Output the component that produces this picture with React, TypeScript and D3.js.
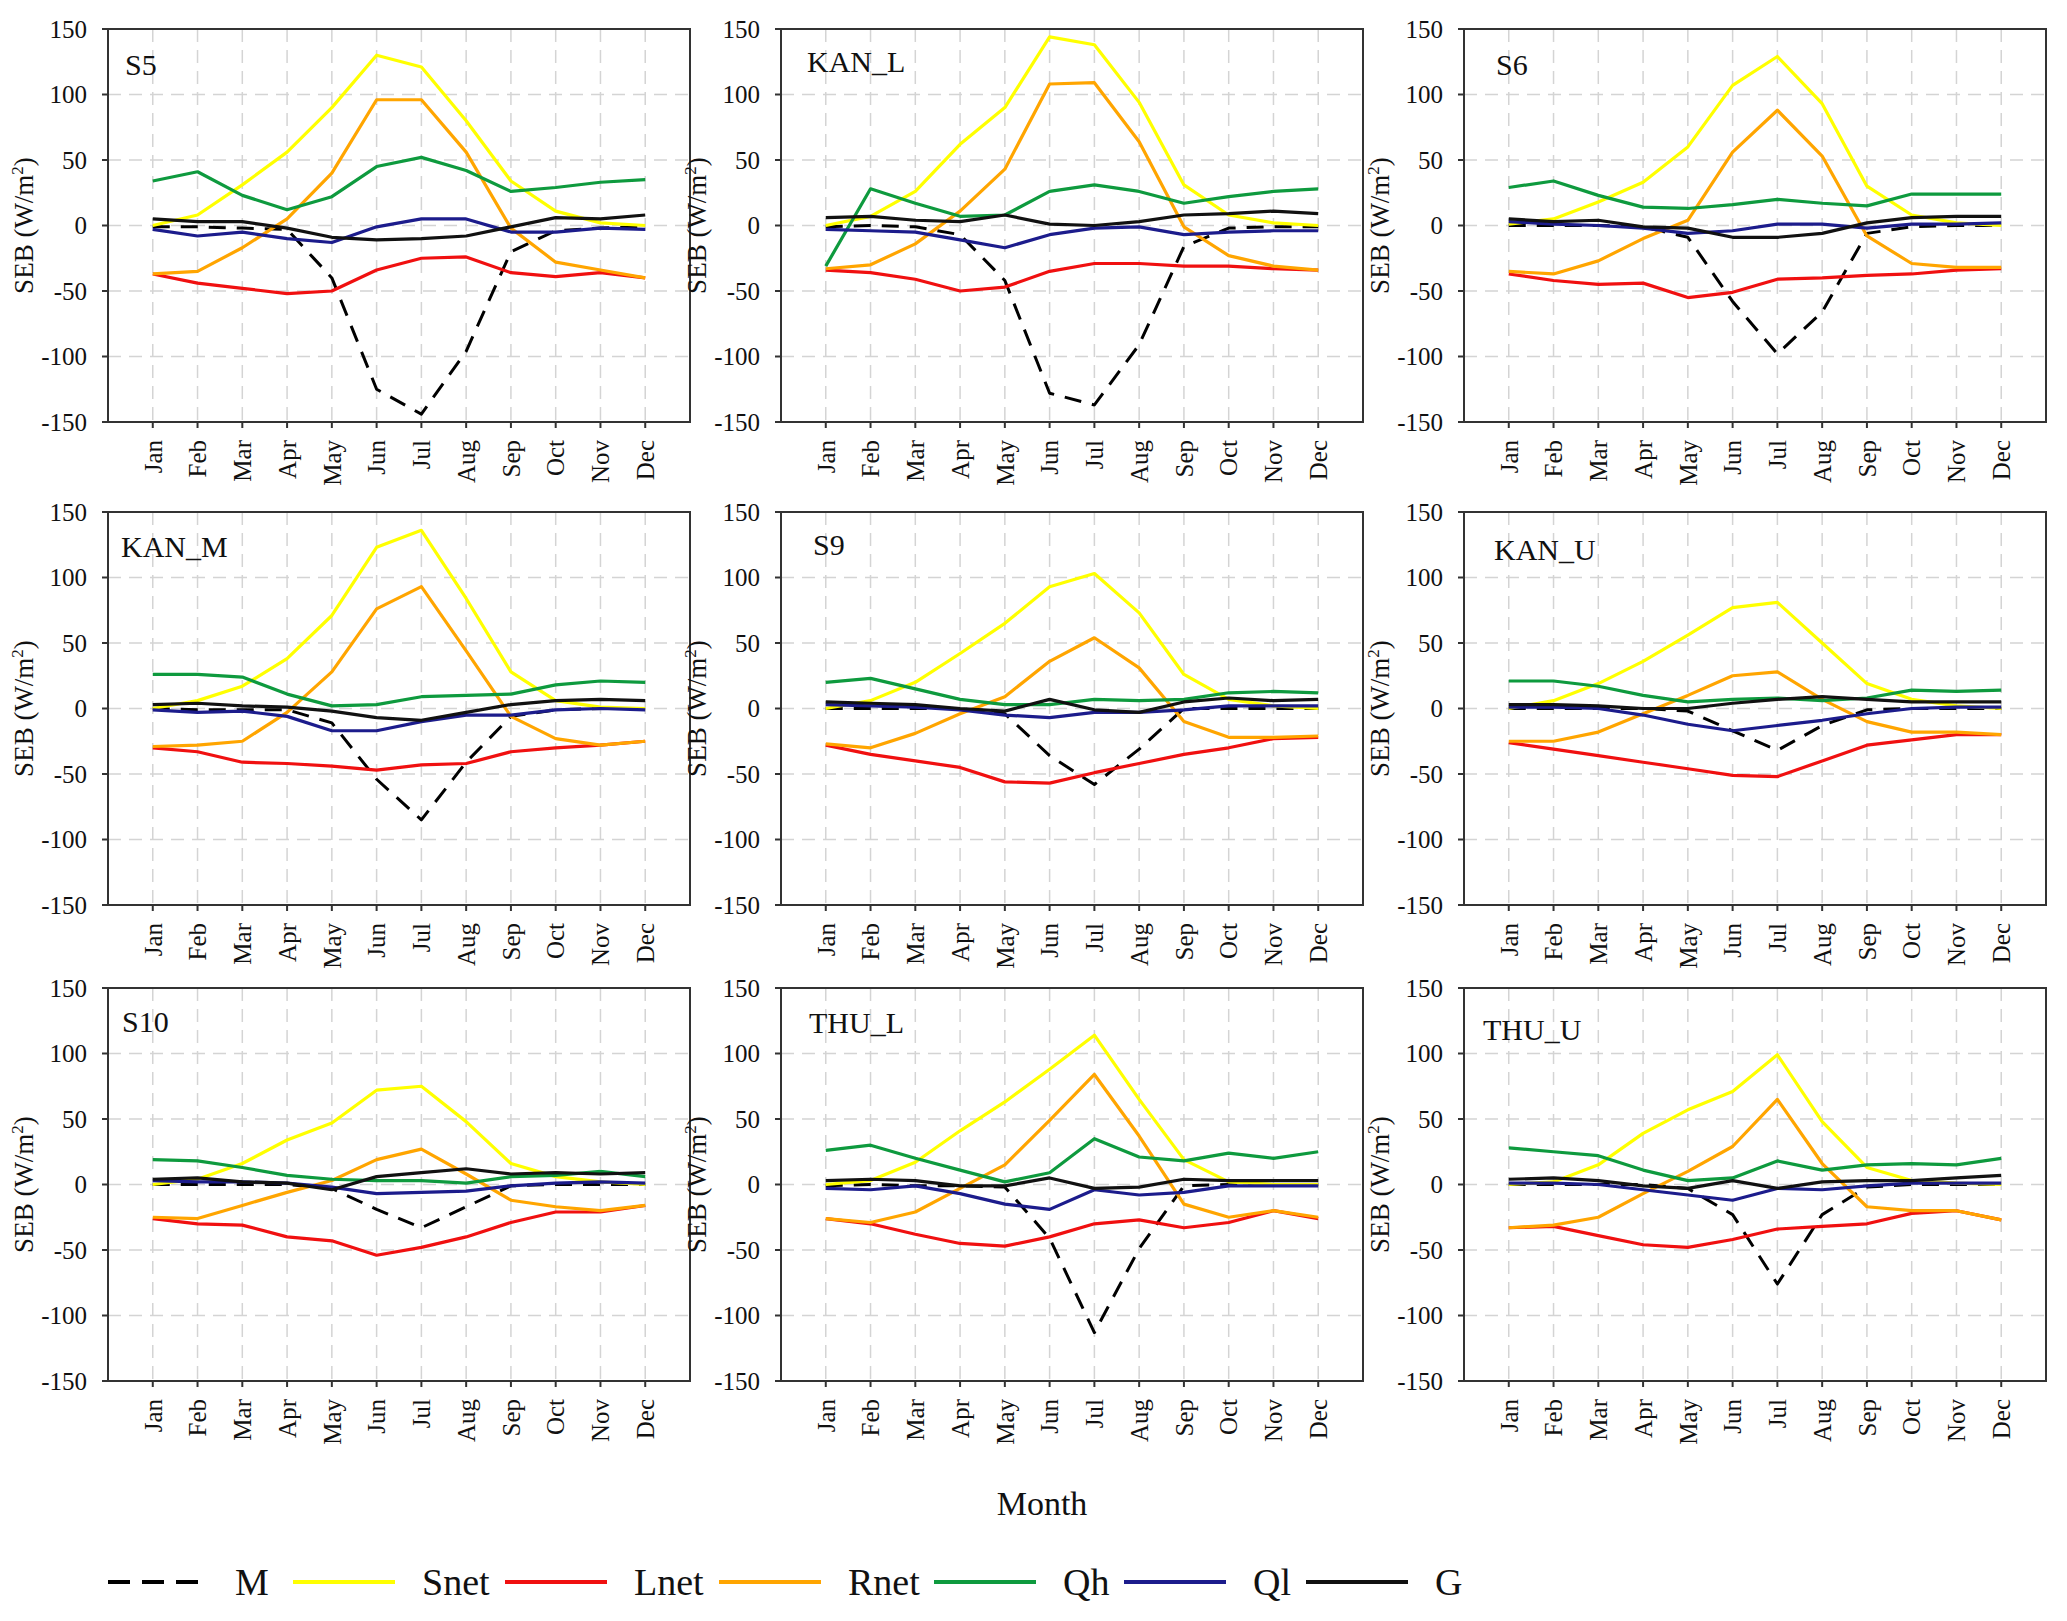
import * as d3 from 'd3'

const months = ['Jan', 'Feb', 'Mar', 'Apr', 'May', 'Jun', 'Jul', 'Aug', 'Sep', 'Oct', 'Nov', 'Dec']
const stations = ['S5', 'KAN_L', 'S6', 'KAN_M', 'S9', 'KAN_U', 'S10', 'THU_L', 'THU_U']
const yTicks = [-150, -100, -50, 0, 50, 100, 150]

// one row per station, in the order of `stations`
const M = [
  [-1, -1, -2, -3, -40, -125, -144, -96, -20, -4, -2, -1],
  [-1, 0, -1, -7, -42, -128, -137, -91, -16, -2, -1, -1],
  [0, 0, 0, -1, -9, -58, -98, -66, -6, -1, 0, 0],
  [0, -1, -1, -1, -11, -54, -85, -41, -6, -1, 0, 0],
  [0, 0, 0, 0, -4, -36, -58, -31, 0, 0, 0, 0],
  [0, 0, 0, 0, -2, -17, -32, -13, -1, 0, 0, 0],
  [0, 0, 0, 0, -3, -19, -33, -17, -1, 0, 0, 0],
  [-1, 0, -1, -1, -2, -41, -113, -49, -1, 0, 0, 0],
  [0, 0, 0, 0, -3, -23, -76, -23, -2, 0, 0, 0],
]
const Snet = [
  [0, 8, 31, 56, 90, 130, 121, 80, 34, 11, 2, 0],
  [0, 7, 26, 62, 90, 144, 138, 94, 31, 8, 2, 0],
  [1, 5, 18, 33, 60, 107, 129, 93, 30, 8, 2, 0],
  [0, 6, 17, 38, 71, 123, 136, 84, 28, 6, 1, 0],
  [0, 6, 20, 42, 65, 93, 103, 73, 26, 7, 2, 0],
  [0, 6, 19, 36, 56, 77, 81, 50, 19, 7, 2, 0],
  [0, 4, 16, 34, 47, 72, 75, 48, 16, 6, 2, 0],
  [0, 3, 17, 41, 63, 88, 114, 65, 19, 2, 0, 0],
  [0, 2, 15, 39, 57, 71, 99, 48, 13, 3, 1, 0],
]
const Lnet = [
  [-37, -44, -48, -52, -50, -34, -25, -24, -36, -39, -36, -40],
  [-34, -36, -41, -50, -47, -35, -29, -29, -31, -31, -33, -34],
  [-37, -42, -45, -44, -55, -51, -41, -40, -38, -37, -34, -33],
  [-30, -33, -41, -42, -44, -47, -43, -42, -33, -30, -28, -25],
  [-28, -35, -40, -45, -56, -57, -49, -42, -35, -30, -23, -22],
  [-26, -31, -36, -41, -46, -51, -52, -40, -28, -24, -20, -20],
  [-26, -30, -31, -40, -43, -54, -48, -40, -29, -21, -21, -16],
  [-26, -30, -38, -45, -47, -40, -30, -27, -33, -29, -20, -26],
  [-33, -32, -39, -46, -48, -42, -34, -32, -30, -22, -20, -27],
]
const Rnet = [
  [-37, -35, -17, 5, 40, 96, 96, 56, -2, -28, -34, -40],
  [-33, -30, -14, 11, 43, 108, 109, 64, -1, -23, -31, -34],
  [-35, -37, -27, -10, 4, 56, 88, 53, -8, -29, -32, -32],
  [-29, -28, -25, -3, 28, 76, 93, 44, -6, -23, -28, -25],
  [-27, -30, -19, -4, 9, 36, 54, 31, -10, -22, -22, -21],
  [-25, -25, -18, -4, 10, 25, 28, 7, -10, -18, -18, -20],
  [-25, -26, -16, -6, 3, 19, 27, 8, -12, -17, -20, -16],
  [-26, -29, -21, -3, 15, 49, 84, 37, -15, -25, -20, -25],
  [-33, -31, -25, -7, 10, 29, 65, 16, -17, -20, -20, -27],
]
const Qh = [
  [34, 41, 23, 12, 22, 45, 52, 42, 26, 29, 33, 35],
  [-31, 28, 17, 7, 8, 26, 31, 26, 17, 22, 26, 28],
  [29, 34, 23, 14, 13, 16, 20, 17, 15, 24, 24, 24],
  [26, 26, 24, 11, 2, 3, 9, 10, 11, 18, 21, 20],
  [20, 23, 15, 7, 3, 3, 7, 6, 7, 12, 13, 12],
  [21, 21, 17, 10, 5, 7, 8, 6, 8, 14, 13, 14],
  [19, 18, 13, 7, 4, 3, 3, 1, 6, 7, 10, 6],
  [26, 30, 20, 11, 2, 9, 35, 21, 18, 24, 20, 25],
  [28, 25, 22, 11, 3, 5, 18, 11, 15, 16, 15, 20],
]
const Ql = [
  [-3, -8, -5, -10, -13, -1, 5, 5, -5, -5, -2, -3],
  [-3, -4, -5, -11, -17, -7, -2, -1, -7, -5, -4, -4],
  [3, 1, 0, -2, -6, -4, 1, 1, -2, 1, 1, 2],
  [-1, -3, -2, -6, -17, -17, -10, -5, -5, -1, 0, -1],
  [3, 2, 1, -1, -5, -7, -3, -3, -1, 2, 2, 2],
  [1, 1, 0, -5, -12, -17, -13, -9, -4, 0, 1, 1],
  [3, 2, 2, 1, -2, -7, -6, -5, -1, 1, 2, 1],
  [-3, -4, -1, -7, -15, -19, -4, -8, -6, -1, -1, -1],
  [1, 1, 0, -4, -8, -12, -3, -4, -1, 1, 1, 1],
]
const G = [
  [5, 3, 3, -2, -9, -11, -10, -8, -1, 6, 5, 8],
  [6, 7, 4, 3, 8, 1, 0, 3, 8, 9, 11, 9],
  [5, 3, 4, -1, -2, -9, -9, -6, 2, 6, 7, 7],
  [3, 4, 2, 1, -2, -7, -9, -3, 3, 6, 7, 6],
  [5, 4, 3, 0, -2, 7, -1, -3, 5, 8, 6, 7],
  [3, 3, 2, 0, 0, 4, 7, 9, 7, 5, 5, 5],
  [4, 5, 2, 1, -4, 6, 9, 12, 8, 9, 8, 9],
  [3, 4, 3, -1, -1, 5, -3, -2, 4, 3, 3, 3],
  [4, 5, 3, -1, -3, 3, -3, 2, 3, 3, 5, 7],
]

const series = [
  { name: 'M', values: M, color: '#000000', dash: '17,11' },
  { name: 'Snet', values: Snet, color: '#FFFF00', dash: '' },
  { name: 'Lnet', values: Lnet, color: '#F01010', dash: '' },
  { name: 'Rnet', values: Rnet, color: '#FFA500', dash: '' },
  { name: 'Qh', values: Qh, color: '#0E9A3E', dash: '' },
  { name: 'Ql', values: Ql, color: '#1C1C8C', dash: '' },
  { name: 'G', values: G, color: '#111111', dash: '' },
]

const FONT = '"Liberation Serif", "Times New Roman", serif'
const W = 2067
const H = 1621
const colX = [108, 781, 1464]
const rowY = [29, 512, 988]
const pw = 582
const ph = 393
// station label placement inside each panel (hand placed in the original)
const labelDx = [17, 26, 32, 13, 32, 30, 14, 28, 19]
const labelDy = [46, 43, 46, 45, 43, 48, 44, 45, 52]

function Panel({ idx }: { idx: number }) {
  const left = colX[idx % 3]
  const top = rowY[Math.floor(idx / 3)]
  const x = d3.scaleLinear().domain([0, 13]).range([0, pw])
  const y = d3.scaleLinear().domain([-150, 150]).range([ph, 0])
  const line = d3
    .line<number>()
    .x((_, i) => x(i + 1))
    .y((d) => y(d))

  return (
    <g transform={`translate(${left},${top})`}>
      {/* grid */}
      {months.map((m, i) => (
        <line key={m} x1={x(i + 1)} x2={x(i + 1)} y1={0} y2={ph}
          stroke="#d4d4d4" strokeWidth={1.5} strokeDasharray="13,8" />
      ))}
      {yTicks.filter((t) => Math.abs(t) < 150).map((t) => (
        <line key={t} x1={0} x2={pw} y1={y(t)} y2={y(t)}
          stroke="#d4d4d4" strokeWidth={1.5} strokeDasharray="13,8" />
      ))}

      {series.map((s) => (
        <path key={s.name} d={line(s.values[idx]) ?? ''} fill="none" stroke={s.color}
          strokeWidth={s.name === 'M' ? 3 : 3.2} strokeDasharray={s.dash || undefined}
          strokeLinejoin="round" />
      ))}

      {/* frame */}
      <rect x={0} y={0} width={pw} height={ph} fill="none" stroke="#333" strokeWidth={2} />

      {/* y axis */}
      {yTicks.map((t) => (
        <g key={t} transform={`translate(0,${y(t)})`}>
          <line x1={-6} x2={0} stroke="#333" strokeWidth={2} />
          <text x={-21} dy="0.35em" textAnchor="end" fontFamily={FONT} fontSize={25} fill="#111">
            {String(t)}
          </text>
        </g>
      ))}
      <text transform={`translate(${-75},${ph / 2}) rotate(-90)`} textAnchor="middle"
        fontFamily={FONT} fontSize={27} fill="#111">
        SEB (W/m<tspan dy={-10} fontSize={17}>2</tspan><tspan dy={10}>)</tspan>
      </text>

      {/* x axis */}
      {months.map((m, i) => (
        <g key={m} transform={`translate(${x(i + 1)},${ph})`}>
          <line y1={0} y2={6} stroke="#333" strokeWidth={2} />
          <text transform="translate(0,18) rotate(-90)" dy="0.35em" textAnchor="end"
            fontFamily={FONT} fontSize={25} fill="#111">
            {m}
          </text>
        </g>
      ))}

      <text x={labelDx[idx]} y={labelDy[idx]} fontFamily={FONT} fontSize={30} fill="#111">
        {stations[idx]}
      </text>
    </g>
  )
}

const legendX = [108, 293, 505, 719, 934, 1124, 1306]

export default function App() {
  const ly = 1582
  return (
    <div style={{ position: 'absolute', left: 0, top: 0 }}>
      <svg width={W} height={H} style={{ display: 'block', background: '#fff' }}>
        {stations.map((s, i) => (
          <Panel key={s} idx={i} />
        ))}
        <text x={1042} y={1515} textAnchor="middle" fontFamily={FONT} fontSize={34} fill="#111">
          Month
        </text>
        {series.map((s, i) => (
          <g key={s.name}>
            <line x1={legendX[i]} x2={legendX[i] + (s.name === 'M' ? 90 : 102)} y1={ly} y2={ly}
              stroke={s.color} strokeWidth={4}
              strokeDasharray={s.name === 'M' ? '22,12' : undefined} />
            <text x={legendX[i] + (s.name === 'M' ? 127 : 129)} y={ly + 13}
              fontFamily={FONT} fontSize={38} fill="#111">
              {s.name}
            </text>
          </g>
        ))}
      </svg>
    </div>
  )
}
